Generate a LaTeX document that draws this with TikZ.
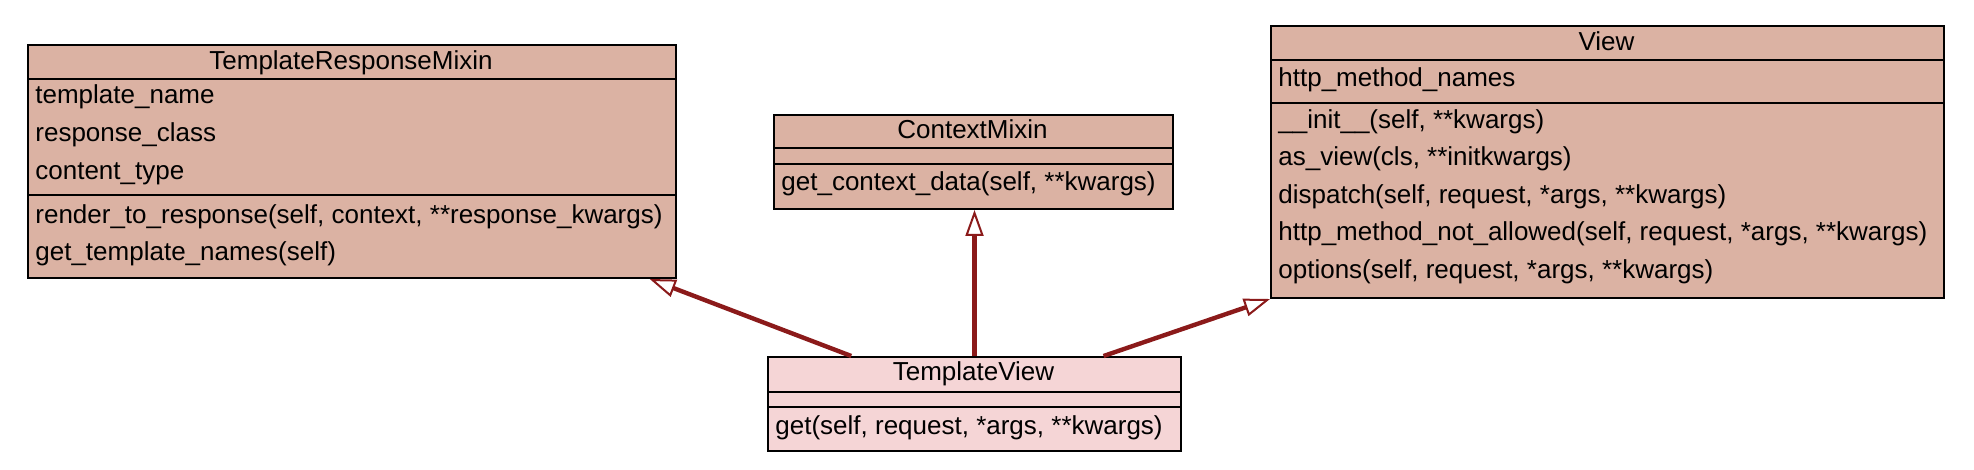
\documentclass[tikz,border=0pt]{standalone}
\usepackage{fontspec}
\setmainfont{Liberation Sans}
\usetikzlibrary{arrows.meta,calc}
\definecolor{boxfill}{RGB}{219,178,163}
\definecolor{tvfill}{RGB}{245,213,214}
\definecolor{edgered}{RGB}{139,26,26}
\begin{document}
\begin{tikzpicture}[x=0.5pt,y=-0.5pt,
  classbox/.style={draw=black, line width=1pt, inner sep=0pt, anchor=north west},
  sepline/.style={draw=black, line width=1pt},
  ctitle/.style={inner sep=0pt, font=\fontsize{13pt}{15pt}\selectfont, text height=9.5pt, text depth=3pt},
  crow/.style={inner sep=0pt, anchor=west, font=\fontsize{13pt}{15pt}\selectfont, text height=9.5pt, text depth=3pt},
  inherit/.style={draw=edgered, line width=2.2pt, -{Triangle[fill=white, length=13pt, width=9pt, line width=1pt]}}
]
\useasboundingbox[fill=white] (0,0) rectangle (1974,470);

% TemplateResponseMixin
\node[classbox, fill=boxfill, minimum width=324pt, minimum height=116.5pt] (trm) at (27,44) {};
\draw[sepline] (trm.west |- 0,79) -- (trm.east |- 0,79);
\draw[sepline] (trm.west |- 0,195) -- (trm.east |- 0,195);
\node[ctitle] (trmt) at (351,63) {TemplateResponseMixin};
\node[crow] (trma1) at (35,97) {template\_name};
\node[crow] (trma2) at (35,135) {response\_class};
\node[crow] (trma3) at (35,173) {content\_type};
\node[crow] (trmm1) at (35,217) {render\_to\_response(self, context, **response\_kwargs)};
\node[crow] (trmm2) at (35,254) {get\_template\_names(self)};

% ContextMixin
\node[classbox, fill=boxfill, minimum width=199.5pt, minimum height=47pt] (cm) at (773,114) {};
\draw[sepline] (cm.west |- 0,148) -- (cm.east |- 0,148);
\draw[sepline] (cm.west |- 0,164) -- (cm.east |- 0,164);
\node[ctitle] (cmt) at (972.5,132) {ContextMixin};
\node[crow] (cmm1) at (781,184) {get\_context\_data(self, **kwargs)};

% View
\node[classbox, fill=boxfill, minimum width=336.5pt, minimum height=136pt] (vw) at (1270,25) {};
\draw[sepline] (vw.west |- 0,60) -- (vw.east |- 0,60);
\draw[sepline] (vw.west |- 0,103) -- (vw.east |- 0,103);
\node[ctitle] (vwt) at (1606.5,44) {View};
\node[crow] (vwa1) at (1278,80) {http\_method\_names};
\node[crow] (vwm1) at (1278,122) {\_\_init\_\_(self, **kwargs)};
\node[crow] (vwm2) at (1278,159) {as\_view(cls, **initkwargs)};
\node[crow] (vwm3) at (1278,197) {dispatch(self, request, *args, **kwargs)};
\node[crow] (vwm4) at (1278,234) {http\_method\_not\_allowed(self, request, *args, **kwargs)};
\node[crow] (vwm5) at (1278,272) {options(self, request, *args, **kwargs)};

% TemplateView
\node[classbox, fill=tvfill, minimum width=206.5pt, minimum height=47pt] (tv) at (767,356) {};
\draw[sepline] (tv.west |- 0,392) -- (tv.east |- 0,392);
\draw[sepline] (tv.west |- 0,407) -- (tv.east |- 0,407);
\node[ctitle] (tvt) at (973.5,374) {TemplateView};
\node[crow] (tvm1) at (775,428) {get(self, request, *args, **kwargs)};

% Inheritance
\draw[inherit] ($(tv.north west)!0.203!(tv.north east)$) -- ($(trm.south west)!0.958!(trm.south east)$);
\draw[inherit] (tv.north) -- (tv.north |- cm.south);
\draw[inherit] ($(tv.north west)!0.811!(tv.north east)$) -- (vw.south west);
\end{tikzpicture}
\end{document}
